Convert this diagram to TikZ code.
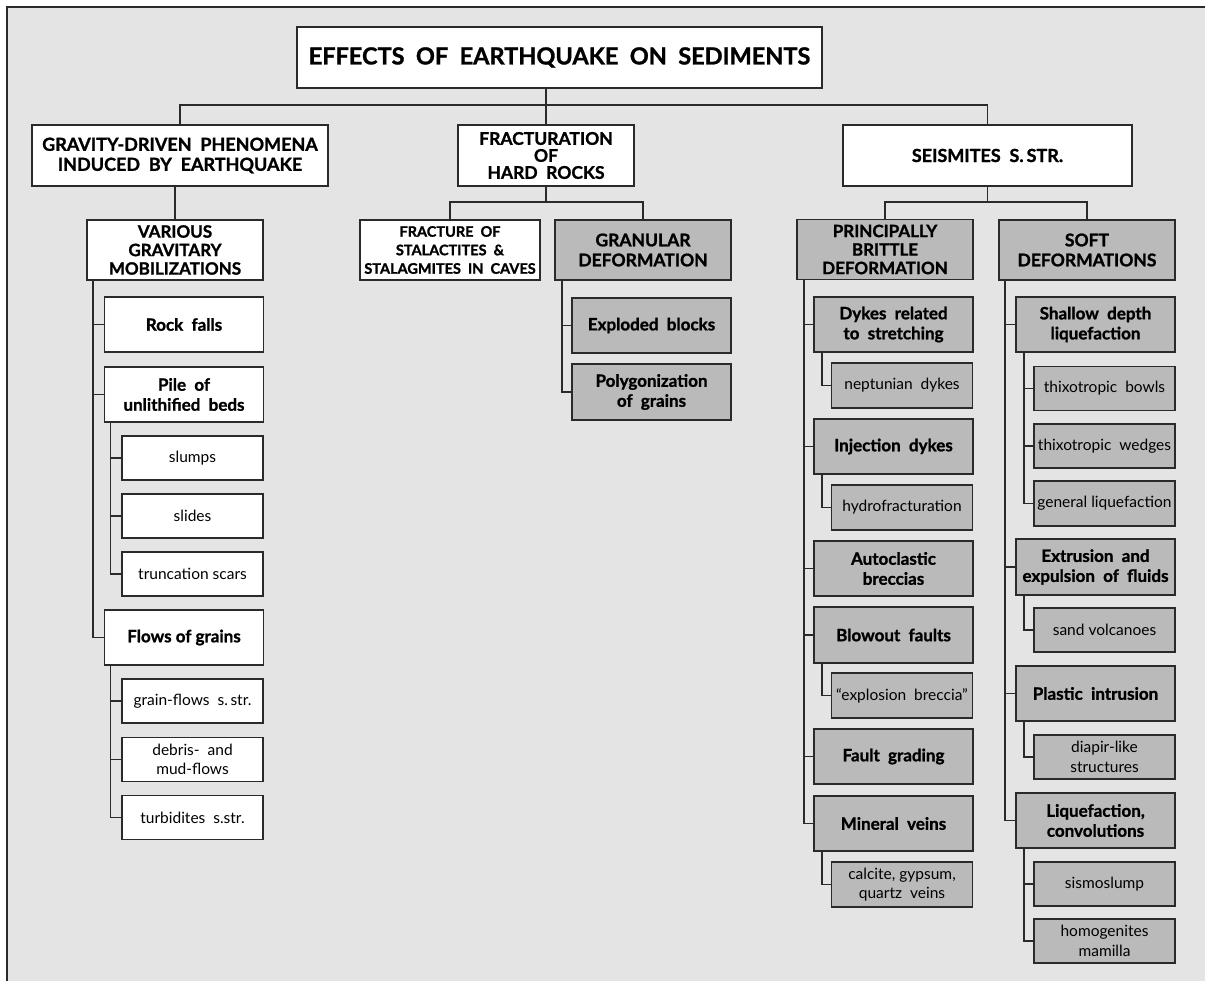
\documentclass[tikz,border=0pt]{standalone}
\usepackage{fontspec}
\setmainfont{Lato}[BoldFeatures={FakeBold=1.2}]
\usetikzlibrary{calc}

\definecolor{paper}{HTML}{E4E4E4}
\definecolor{shade}{HTML}{BABABA}
\definecolor{ink}{HTML}{2A2A2A}

\begin{document}
\begin{tikzpicture}[x=1pt,y=-1pt,
  box/.style={draw=ink, line width=1.7pt, fill=white, align=center, inner sep=0pt,
    text=black, font=\fontsize{17}{20}\selectfont\bfseries},
  gbox/.style={box, fill=shade},
  head/.style={minimum width=176pt, minimum height=60pt, font=\fontsize{17}{18.5}\selectfont\bfseries},
  item/.style={minimum width=159pt, minimum height=55pt},
  sub/.style={minimum width=141pt, minimum height=44pt, font=\fontsize{15.5}{19.5}\selectfont},
  link/.style={draw=ink, line width=1.4pt}]

\useasboundingbox (0,0) rectangle (1205,981);
% page background and frame
\fill[paper] (7,7) rectangle (1205,981);
\draw[ink, line width=1.5pt] (7,981) -- (7,7) -- (1205,7);

% top levels
\node[box, minimum width=525pt, minimum height=61pt, font=\fontsize{23.5}{26}\selectfont\bfseries]
  (title) at (559.5,57.5) {EFFECTS\ \ OF\ \ EARTHQUAKE\ \ ON\ \ SEDIMENTS};
\node[box, minimum width=296pt, minimum height=61pt, font=\fontsize{18}{20}\selectfont\bfseries]
  (grav) at (180,155.5) {GRAVITY-DRIVEN\ \ PHENOMENA\\INDUCED\ \ BY\ \ EARTHQUAKE};
\node[box, minimum width=176pt, minimum height=61pt, font=\fontsize{17.5}{17}\selectfont\bfseries]
  (fract) at (546,155.5) {FRACTURATION\\OF\\HARD\ \ ROCKS};
\node[box, minimum width=289pt, minimum height=61pt, font=\fontsize{18}{20}\selectfont\bfseries]
  (seis) at (987.5,155.5) {SEISMITES\ \ S.\,STR.};

\coordinate (bus) at (546,105);
\draw[link] (title.south -| fract.north) -- (fract.north);
\draw[link] (grav.north) |- (bus) -| (seis.north);

% second level
\node[box, head] (various) at (175,250) {VARIOUS\\GRAVITARY\\MOBILIZATIONS};
\node[box, head, minimum width=180pt, font=\fontsize{14.5}{18.5}\selectfont\bfseries]
  (stal) at (450,250) {FRACTURE\ \ OF\\STALACTITES\ \ \&\\STALAGMITES\ \ IN\ \ CAVES};
\node[gbox, head, font=\fontsize{17.5}{20}\selectfont\bfseries] (gran) at (643,250) {GRANULAR\\DEFORMATION};
\node[gbox, head] (brit) at (885,249.5) {PRINCIPALLY\\BRITTLE\\DEFORMATION};
\node[gbox, head, font=\fontsize{17.5}{20}\selectfont\bfseries] (soft) at (1087,250) {SOFT\\DEFORMATIONS};

\draw[link] (various.north |- grav.south) -- (various.north);
\coordinate (fbus) at (546,202);
\coordinate (sbus) at (987.5,202);
\draw[link] (fract.south) -- (fbus);
\draw[link] (stal.north) |- (fbus) -| (gran.north);
\draw[link] (seis.south) -- (sbus);
\draw[link] (brit.north) |- (sbus) -| (soft.north);

% gravity-driven column
\node[box, item] (rock)  at (184,324.5) {Rock\ \ falls};
\node[box, item] (pile)  at (184,394.5) {Pile\ \ of\\unlithified\ \ beds};
\node[box, sub]  (slump) at (192.5,458) {slumps};
\node[box, sub]  (slide) at (192.5,516) {slides};
\node[box, sub]  (trunc) at (192.5,574) {truncation scars};
\node[box, item] (flows) at (184,637.5) {Flows of grains};
\node[box, sub]  (gflow) at (192.5,701) {grain-flows\ \ s.\,str.};
\node[box, sub]  (debris) at (192.5,759.5) {debris-\ \ and\\mud-flows};
\node[box, sub]  (turb)  at (192.5,817.5) {turbidites\ \ s.str.};

\foreach \n in {rock,pile,flows}
  \draw[link] ([xshift=7pt]various.south west) |- (\n.west);
\foreach \n in {slump,slide,trunc}
  \draw[link] ([xshift=7pt]pile.south west) |- (\n.west);
\foreach \n in {gflow,debris,turb}
  \draw[link] ([xshift=7pt]flows.south west) |- (\n.west);

% granular deformation
\node[gbox, item] (expl) at (651.5,325.5) {Exploded\ \ blocks};
\node[gbox, item, minimum height=56pt] (poly) at (651.5,392) {Polygonization\\of\ \ grains};
\foreach \n in {expl,poly}
  \draw[link] ([xshift=8pt]gran.south west) |- (\n.west);

% brittle column
\node[gbox, item] (dykes)  at (893.5,324.5) {Dykes\ \ related\\to\ \ stretching};
\node[gbox, sub, minimum height=45pt] (nept) at (902,385.5) {neptunian\ \ dykes};
\node[gbox, item] (inject) at (893.5,446.5) {Injection\ \ dykes};
\node[gbox, sub, minimum height=45pt] (hydro) at (902,507.5) {hydrofracturation};
\node[gbox, item] (auto)   at (893.5,568.5) {Autoclastic\\breccias};
\node[gbox, item, minimum height=56pt] (blow) at (893.5,635) {Blowout\ \ faults};
\node[gbox, sub, minimum height=45pt] (explo) at (902,695.5) {``explosion\ \ breccia''};
\node[gbox, item] (fault)  at (893.5,756.5) {Fault\ \ grading};
\node[gbox, item] (veins)  at (893.5,823.5) {Mineral\ \ veins};
\node[gbox, sub, minimum height=45pt] (calc) at (902,884.5) {calcite, gypsum,\\quartz\ \ veins};

\foreach \n in {dykes,inject,auto,blow,fault,veins}
  \draw[link] ([xshift=8pt]brit.south west) |- (\n.west);
\draw[link] ([xshift=9pt]dykes.south west) |- (nept.west);
\draw[link] ([xshift=9pt]inject.south west) |- (hydro.west);
\draw[link] ([xshift=9pt]blow.south west) |- (explo.west);
\draw[link] ([xshift=9pt]veins.south west) |- (calc.west);

% soft column
\node[gbox, item] (shallow) at (1095.5,324.5) {Shallow\ \ depth\\liquefaction};
\node[gbox, sub] (bowls)   at (1104.5,388.5) {thixotropic\ \ bowls};
\node[gbox, sub] (wedges)  at (1104.5,446) {thixotropic\ \ wedges};
\node[gbox, sub, minimum height=45pt] (general) at (1104.5,503.5) {general liquefaction};
\node[gbox, item, minimum height=56pt] (extr) at (1095.5,567) {Extrusion\ \ and\\expulsion\ \ of\ \ fluids};
\node[gbox, sub] (sand)    at (1104.5,630) {sand volcanoes};
\node[gbox, item] (plastic) at (1095.5,693.5) {Plastic\ \ intrusion};
\node[gbox, sub] (diapir)  at (1104.5,757) {diapir-like\\structures};
\node[gbox, item] (liq)    at (1095.5,820.5) {Liquefaction,\\convolutions};
\node[gbox, sub] (sismo)   at (1104.5,884) {sismoslump};
\node[gbox, sub] (homog)   at (1104.5,941) {homogenites\\mamilla};

\foreach \n in {shallow,extr,plastic,liq}
  \draw[link] ([xshift=7pt]soft.south west) |- (\n.west);
\foreach \n in {bowls,wedges,general}
  \draw[link] ([xshift=9pt]shallow.south west) |- (\n.west);
\draw[link] ([xshift=9pt]extr.south west) |- (sand.west);
\draw[link] ([xshift=9pt]plastic.south west) |- (diapir.west);
\foreach \n in {sismo,homog}
  \draw[link] ([xshift=9pt]liq.south west) |- (\n.west);
\end{tikzpicture}
\end{document}
